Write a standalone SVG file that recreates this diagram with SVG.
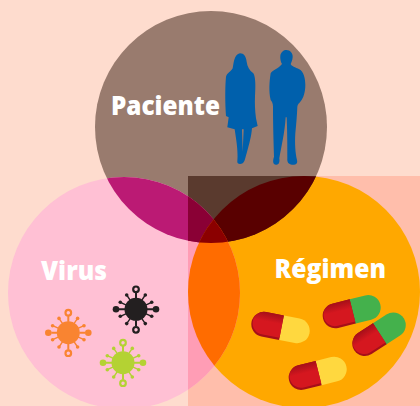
<svg xmlns="http://www.w3.org/2000/svg" width="420" height="406" viewBox="0 0 420 406">
<style>
.lbl{font-family:"Open Sans","Liberation Sans",sans-serif;font-weight:800;font-size:26px;fill:#fff}
.person{fill:#0060AC;fill-rule:evenodd}
.sp{stroke:currentColor;stroke-width:1.4;fill:none}
.th{stroke:currentColor;stroke-width:2;fill:none}
.dot{fill:currentColor}
.ring{fill:none;stroke:currentColor;stroke-width:2.2}
.green{fill:#44B14C}.yellow{fill:#FFD83F}.redb{fill:#A60F19}
</style>
<defs>
<circle id="cT" cx="211" cy="127" r="116"/>
<circle id="cL" cx="124" cy="293" r="116"/>
<circle id="cR" cx="304" cy="292" r="116"/>
<clipPath id="clipT"><use href="#cT"/></clipPath>
<clipPath id="clipL"><use href="#cL"/></clipPath>
<clipPath id="clipB"><rect x="188" y="176" width="232" height="230"/></clipPath>
<linearGradient id="rg" x1="0" y1="0" x2="0" y2="1"><stop offset="0" stop-color="#A60F19"/><stop offset=".4" stop-color="#D5171F"/><stop offset="1" stop-color="#D5171F"/></linearGradient>
<g id="virus">
<path class="th" d="M0-17V-11M0 17V11M-17 0H-11M17 0H11"/>
<path class="sp" d="M-9.3-14.3L-5-8M9.3-14.3L5-8M-15.7-7L-9-4M15.7-7L9-4M-15.7 7L-9 4M15.7 7L9 4M-9.3 14.3L-5 8M9.3 14.3L5 8"/>
<circle class="dot" r="11.5"/>
<circle class="ring" cy="-20" r="2.8"/><circle class="ring" cy="20.5" r="2.8"/>
<circle class="dot" cx="-20" r="3.3"/><circle class="dot" cx="20" r="3.3"/>
<circle class="dot" cx="-9.3" cy="-14.3" r="1.8"/><circle class="dot" cx="9.3" cy="-14.3" r="1.8"/>
<circle class="dot" cx="-15.7" cy="-7" r="1.8"/><circle class="dot" cx="15.7" cy="-7" r="1.8"/>
<circle class="dot" cx="-15.7" cy="7" r="1.8"/><circle class="dot" cx="15.7" cy="7" r="1.8"/>
<circle class="dot" cx="-9.3" cy="14.3" r="1.8"/><circle class="dot" cx="9.3" cy="14.3" r="1.8"/>
</g>
<path id="redhalf" class="redb" d="M1-12.5H-17A12.5 12.5 0 0 0-17 12.5H1Z"/>
<path id="redtop" fill="url(#rg)" d="M1-12.5H-17A11.3 11.3 0 0 0-17 10.3H1Z"/>
<path id="capR" d="M0-12.5H17A12.5 12.5 0 0 1 17 12.5H0Z"/>
</defs>
<rect id="background" width="420" height="406" fill="#FEDCCE"/>
<g id="venn">
<rect x="188" y="176" width="232" height="230" fill="#FFBEAB"/>
<use href="#cT" fill="#997B6E"/>
<use href="#cL" fill="#FFC0D4"/>
<use href="#cR" fill="#FFA800"/>
<g clip-path="url(#clipB)">
<use href="#cT" fill="#5A3A2E"/>
<use href="#cL" fill="#FF9DB5"/>
</g>
<use href="#cL" clip-path="url(#clipT)" fill="#BB1A74"/>
<g clip-path="url(#clipB)"><use href="#cL" clip-path="url(#clipT)" fill="#8A0035"/></g>
<use href="#cR" clip-path="url(#clipT)" fill="#590000"/>
<use href="#cR" clip-path="url(#clipL)" fill="#FF6C00"/>
<g clip-path="url(#clipL)"><use href="#cR" clip-path="url(#clipT)" fill="#8B0000"/></g>
</g>
<g id="paciente">
<text class="lbl" x="111" y="115" textLength="109" lengthAdjust="spacingAndGlyphs">Paciente</text>
<path class="person" transform="translate(210 40) scale(.3333)" d="M90 40C102 40 108 50 110 65C112 80 118 90 130 100C137 110 137 140 135 170C134 190 135 210 138 235L143 258L126 265C124 290 118 310 110 340C106 352 105 365 98 370C90 374 80 372 82 362C84 352 82 320 78 295L74 268L52 262L56 232L48 228C45 190 45 140 48 110C52 98 62 96 68 85C72 65 72 45 90 40ZM96 268L101 268L98 335Z"/>
<path class="person" transform="translate(262 40) scale(.3333)" d="M73 30C85 30 93 40 92 52C91 62 88 68 86 72C88 78 100 82 112 88C125 95 130 115 130 135C130 155 125 175 115 185C112 190 108 190 106 200C105 225 103 250 100 280C98 310 100 340 105 360C108 372 100 375 90 374C80 373 75 368 76 355C76 320 76 280 74 232L71 232C68 280 58 320 52 355C54 368 50 375 42 374C32 373 32 362 36 350C35 310 33 260 33 200C33 190 30 185 26 180C20 155 22 125 26 100C30 92 50 85 60 72C56 65 54 55 55 47C57 36 65 30 73 30Z"/>
</g>
<g id="virus-node">
<text class="lbl" x="41" y="280" textLength="66" lengthAdjust="spacingAndGlyphs">Virus</text>
<use href="#virus" x="68.3" y="332.7" color="#F98431"/>
<use href="#virus" x="136" y="309.3" color="#231F20"/>
<use href="#virus" x="123" y="362.7" color="#B4D233"/>
</g>
<g id="regimen-node">
<text class="lbl" x="274.5" y="278" textLength="111.5" lengthAdjust="spacingAndGlyphs">Régimen</text>
<g transform="translate(280.5 327.5) rotate(11)"><use href="#capR" class="yellow"/><use href="#redhalf"/><use href="#redtop"/></g>
<g transform="translate(351.7 311.7) rotate(-14)"><use href="#capR" class="green"/><use href="#redhalf"/><use href="#redtop"/></g>
<g transform="translate(379 334.3) rotate(-33)"><use href="#capR" class="green"/><use href="#redhalf"/><use href="#redtop"/></g>
<g transform="translate(317.7 373.3) rotate(-14)"><use href="#capR" class="yellow"/><use href="#redhalf"/><use href="#redtop"/></g>
</g>
<g id="connectors"/>
</svg>
